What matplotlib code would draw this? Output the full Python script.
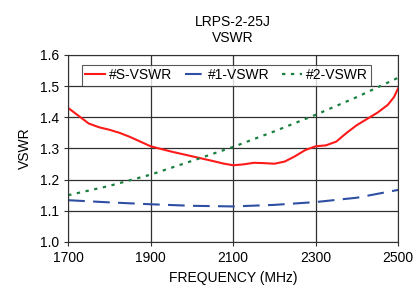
import numpy as np
import matplotlib
matplotlib.use('Agg')
import matplotlib.pyplot as plt

plt.rcParams['font.family'] = ['Liberation Sans', 'DejaVu Sans']

freq = [1700, 1725, 1750, 1775, 1800, 1825, 1850, 1875, 1900, 1950, 2000, 2050, 2075,
        2100, 2125, 2150, 2175, 2200, 2225, 2250, 2275, 2300, 2325, 2350, 2375, 2400,
        2425, 2450, 2475, 2490, 2500]
s_vswr = [1.43, 1.405, 1.38, 1.368, 1.36, 1.35, 1.337, 1.322, 1.307, 1.29, 1.275, 1.26, 1.252,
          1.246, 1.249, 1.254, 1.253, 1.251, 1.258, 1.275, 1.295, 1.307, 1.31, 1.322, 1.35, 1.375,
          1.395, 1.415, 1.44, 1.465, 1.493]

freq2 = [1700, 1800, 1900, 2000, 2100, 2200, 2300, 2400, 2500]
v1_vswr = [1.134, 1.127, 1.121, 1.116, 1.114, 1.119, 1.128, 1.142, 1.167]
v2_vswr = [1.15, 1.18, 1.216, 1.26, 1.305, 1.355, 1.408, 1.465, 1.527]

fig = plt.figure(figsize=(4.13, 2.94), dpi=100)
ax = fig.add_axes([0.165, 0.177, 0.799, 0.636])

ax.plot(freq, s_vswr, color='#ff1a1a', lw=1.5, label='#S-VSWR')
ax.plot(freq2, v1_vswr, color='#2e4fa3', lw=1.5, dashes=(8, 4), label='#1-VSWR')
ax.plot(freq2, v2_vswr, color='#1a8040', lw=1.6, dashes=(1.5, 2.5), label='#2-VSWR')

ax.set_xlim(1700, 2500)
ax.set_ylim(1.0, 1.6)
ax.set_xticks([1700, 1900, 2100, 2300, 2500])
ax.set_yticks(np.arange(1.0, 1.61, 0.1))
ax.set_yticklabels(['%.1f' % v for v in np.arange(1.0, 1.61, 0.1)])
ax.grid(True, color='#303030', lw=0.9)
for sp in ax.spines.values():
    sp.set_color('#303030')
ax.tick_params(labelsize=10, length=3, color='#303030')

ax.set_xlabel('FREQUENCY (MHz)', fontsize=10, labelpad=4)
ax.set_ylabel('VSWR', fontsize=10, labelpad=6)
ax.set_title('LRPS-2-25J\nVSWR', fontsize=10, pad=9)

leg = ax.legend(loc='upper center', ncol=3, fontsize=10, frameon=True, fancybox=False,
                edgecolor='#303030', handlelength=1.4, handletextpad=0.3,
                columnspacing=0.9, borderpad=0.25, bbox_to_anchor=(0.48, 0.985))
leg.get_frame().set_linewidth(0.8)

fig.savefig('out.png', dpi=100)
